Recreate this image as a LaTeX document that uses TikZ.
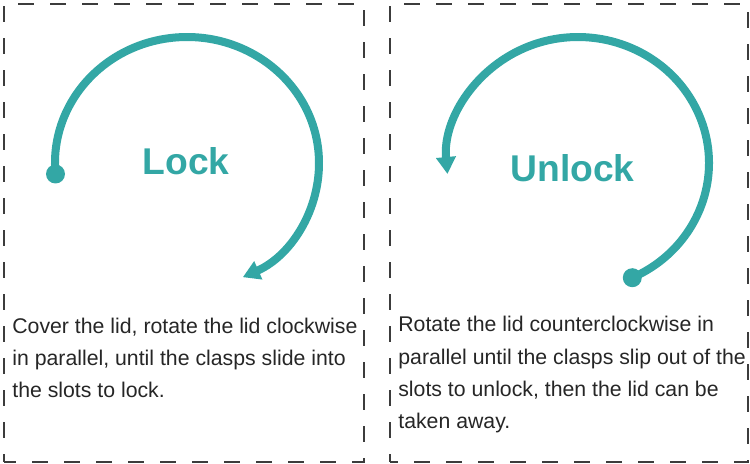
\documentclass[tikz,border=0pt]{standalone}
\usepackage{fontspec}
\setmainfont{Liberation Sans}
\usetikzlibrary{arrows.meta}
\definecolor{lidteal}{RGB}{51,167,165}
\definecolor{textgray}{RGB}{38,38,38}
\definecolor{framegray}{RGB}{60,60,60}

\begin{document}
\begin{tikzpicture}[x=0.2mm,y=0.2mm,
  panel/.style={draw=framegray,line width=0.7pt,dash pattern=on 3.2mm off 3.2mm,dash phase=1.6mm},
  turn/.style={draw=lidteal,line width=1.6mm,-{Triangle[length=3.4mm,width=3.8mm]}},
  title/.style={text=lidteal,font=\fontsize{21.2}{25}\selectfont\bfseries,anchor=base,inner sep=0pt},
  body/.style={text=textgray,font=\fontsize{12.1}{18.4}\selectfont,anchor=base west,align=left,inner sep=0pt}]
  \useasboundingbox (0,0) rectangle (750,464);
  \draw[panel] (4,2) rectangle (364,460);
  \draw[panel] (390,2) rectangle (748,460);

  % lock: clockwise
  \coordinate (lockstart) at (55.5,290);
  \draw[turn] (lockstart) arc[start angle=185,end angle=-65,x radius=132,y radius=126];
  \fill[lidteal] (lockstart) circle (9.5);
  \node[title] (locktitle) at (186,289) {Lock};
  % base of the text node sits on its last line
  \node[body] (locktext) at (12,66) {Cover the lid, rotate the lid clockwise\\
    in parallel, until the clasps slide into\\
    the slots to lock.};

  % unlock: counterclockwise
  \coordinate (unlockstart) at (632.3,186.3);
  \draw[turn] (unlockstart) arc[start angle=-65.5,end angle=185,x radius=131,y radius=126];
  \fill[lidteal] (unlockstart) circle (9.5);
  \node[title] (unlocktitle) at (572.5,282) {Unlock};
  \node[body] (unlocktext) at (398,35) {Rotate the lid counterclockwise in\\
    parallel until the clasps slip out of the\\
    slots to unlock, then the lid can be\\
    taken away.};
\end{tikzpicture}
\end{document}
